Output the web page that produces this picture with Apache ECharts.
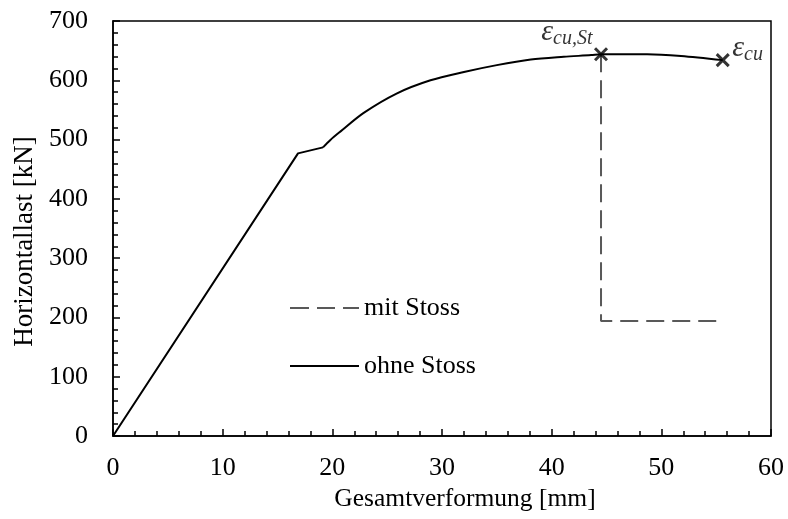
<!DOCTYPE html>
<html>
<head>
<meta charset="utf-8">
<script src="https://cdn.jsdelivr.net/npm/echarts@6/dist/echarts.min.js"></script>
<style>
  html, body { margin: 0; padding: 0; background: #fff; }
  #chart { width: 788px; height: 519px; }
</style>
</head>
<body>
<div id="chart"></div>
<script>
// Load–deformation curves (Gesamtverformung in mm, Horizontallast in kN)
const ohneX = [0, 16.87, 19.15, 19.8, 20.7, 22.86, 25.9, 28.95, 32.0, 35.0, 38.1, 41.1, 43.6, 44.5, 48.7, 51.8, 55.6];
const ohneY = [0, 476.7, 486.8, 499, 513, 545, 578, 600, 614, 625.6, 635, 639.6, 642.5, 644, 644, 641, 634];
// index where the curved (plastic) branch begins
const ohneBendIndex = 2;

const mitX = [44.5, 44.5, 55.6];
const mitY = [644, 194, 194];

// Failure points marked with crosses
const failX = [44.5, 55.6];
const failY = [644, 634];
const failSub = ['cu,St', 'cu'];

const seriesNames = ['mit Stoss', 'ohne Stoss'];
const xTicks = { min: 0, max: 60, interval: 10 };
const yTicks = { min: 0, max: 700, interval: 100 };

const FONT = '"Liberation Serif", "Times New Roman", serif';
const FS = 26;
const pairs = (xs, ys) => xs.map((x, i) => [x, ys[i]]);
const crossPath = 'path://M0,0 L10,10 M10,0 L0,10';
// Legend line samples: dashed and solid strokes drawn as thin bars
const dashedIcon = 'path://M0,0h19v2h-19z M27,0h18v2h-18z M53,0h16v2h-16z';
const solidIcon = 'path://M0,0h69v2h-69z';

const ohnePts = pairs(ohneX, ohneY);
const ohneStraight = ohnePts.slice(0, ohneBendIndex + 1);
const ohneCurved = ohnePts.slice(ohneBendIndex);

const chart = echarts.init(document.getElementById('chart'), null, { renderer: 'canvas' });

const axisCommon = {
  axisLine: { show: true, lineStyle: { color: '#000', width: 1.5 } },
  axisTick: { show: true, inside: true, length: 7, lineStyle: { color: '#000', width: 1.5 } },
  minorTick: { show: true, splitNumber: 5, length: 5, lineStyle: { color: '#000', width: 1.5 } },
  splitLine: { show: false },
  nameLocation: 'middle'
};

const ohneStyle = {
  name: seriesNames[1],
  type: 'line',
  symbol: 'none',
  lineStyle: { color: '#000', width: 2 },
  itemStyle: { color: '#000' },
  z: 3
};

chart.setOption({
  animation: false,
  backgroundColor: '#fff',
  textStyle: { fontFamily: FONT, color: '#000' },
  grid: {
    left: 113, right: 17, top: 21, bottom: 83,
    show: true, borderColor: '#000', borderWidth: 1.5, backgroundColor: 'transparent'
  },
  legend: {
    data: [
      { name: seriesNames[0], icon: dashedIcon, itemStyle: { color: '#595959' } },
      { name: seriesNames[1], icon: solidIcon, itemStyle: { color: '#000' } }
    ],
    orient: 'vertical',
    left: 285, top: 290,
    itemWidth: 69, itemHeight: 2, itemGap: 32,
    textStyle: { fontFamily: FONT, fontSize: FS, color: '#000' }
  },
  xAxis: Object.assign({
    type: 'value',
    min: xTicks.min, max: xTicks.max, interval: xTicks.interval,
    name: 'Gesamtverformung [mm]',
    nameGap: 39,
    nameTextStyle: { fontFamily: FONT, fontSize: 25.5, color: '#000', padding: [0, 0, 0, 46] },
    axisLabel: { fontFamily: FONT, fontSize: FS, color: '#000', margin: 19 }
  }, axisCommon),
  yAxis: Object.assign({
    type: 'value',
    min: yTicks.min, max: yTicks.max, interval: yTicks.interval,
    name: 'Horizontallast [kN]',
    nameGap: 72,
    nameTextStyle: { fontFamily: FONT, fontSize: 27, color: '#000', padding: [0, 26, 0, 0] },
    axisLabel: { fontFamily: FONT, fontSize: FS, color: '#000', margin: 25 }
  }, axisCommon),
  series: [
    {
      name: seriesNames[0],
      type: 'line',
      data: pairs(mitX, mitY),
      symbol: 'none',
      lineStyle: { color: '#595959', width: 2, type: [18, 8] },
      itemStyle: { color: '#595959' },
      z: 2
    },
    Object.assign({ data: ohneStraight }, ohneStyle),
    Object.assign({ data: ohneCurved, smooth: 0.3 }, ohneStyle),
    {
      name: 'Versagen',
      type: 'scatter',
      data: pairs(failX, failY).map((p, i) => ({
        value: p,
        label: i === 0
          ? { position: 'left', offset: [4, -22], formatter: '{e|ε}{s|' + failSub[i] + '}' }
          : { position: 'right', offset: [-3, -12], formatter: '{e|ε}{s|' + failSub[i] + '}' }
      })),
      symbol: crossPath,
      symbolSize: 12,
      itemStyle: { color: 'transparent', borderColor: '#000', borderWidth: 3 },
      label: {
        show: true,
        rich: {
          e: { fontFamily: FONT, fontStyle: 'italic', fontSize: 30, color: '#000', lineHeight: 30 },
          s: { fontFamily: FONT, fontStyle: 'italic', fontSize: 20, color: '#000', padding: [14, 0, 0, 0] }
        }
      },
      z: 5
    }
  ]
});
</script>
</body>
</html>
